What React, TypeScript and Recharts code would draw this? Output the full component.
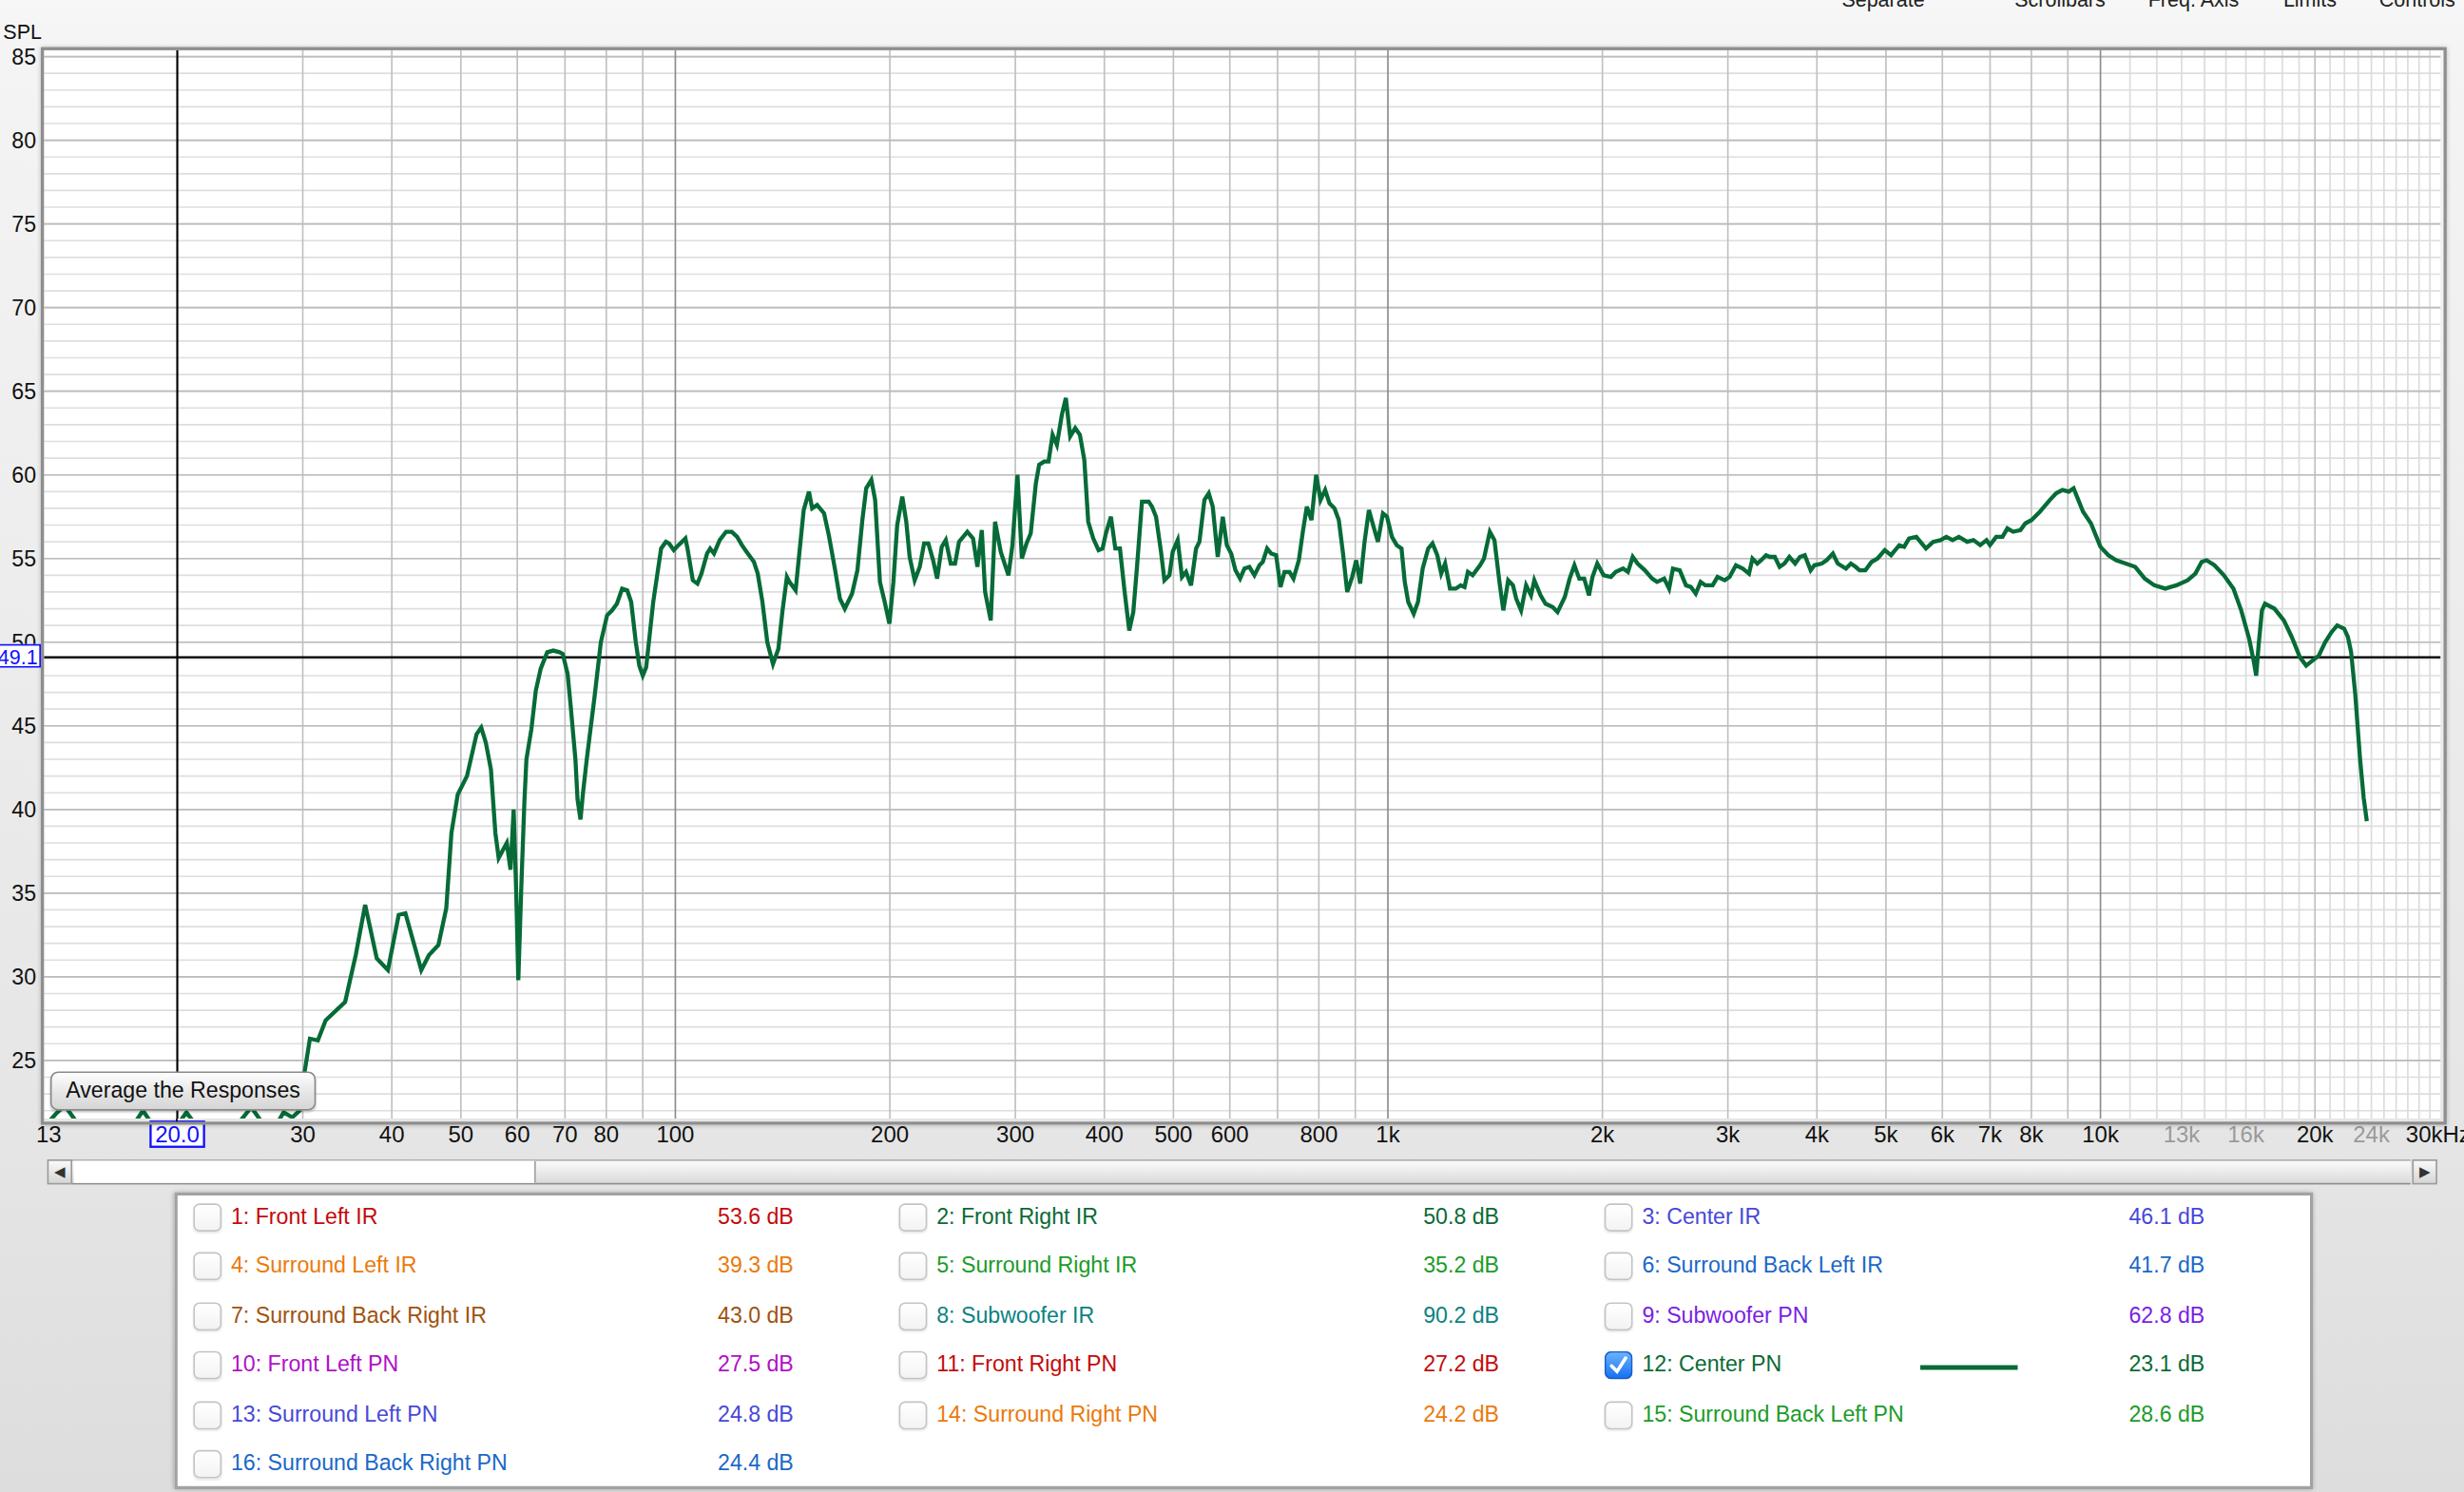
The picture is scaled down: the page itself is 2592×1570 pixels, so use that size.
import React from 'react';
import { LineChart, Line, XAxis, YAxis, CartesianGrid, ReferenceLine } from 'recharts';

const freqHz = [
  13.0, 13.5, 13.9, 14.4, 15.2, 16.3, 17.2, 17.9, 18.7, 19.6, 20.6, 21.6, 22.8, 24.0, 25.4, 26.4,
  27.4, 28.2, 29.0, 29.7, 30.2, 30.7, 31.5, 32.3, 34.4, 35.6, 36.7, 38.1, 39.5, 40.9, 41.8, 44.0,
  45.1, 46.5, 47.7, 48.5, 49.5, 51.0, 52.6, 53.4, 54.2, 55.1, 55.9, 56.5, 58.0, 58.7, 59.3, 59.8,
  60.2, 60.8, 61.4, 61.8, 62.8, 63.7, 64.7, 66.1, 67.4, 68.8, 69.5, 70.6, 71.3, 72.4, 72.9, 73.6,
  74.2, 75.1, 77.0, 78.6, 80.2, 81.5, 82.8, 84.2, 85.6, 86.7, 88.0, 89.0, 90.0, 91.0, 93.1, 95.5,
  97.0, 98.0, 99.5, 101, 103.3, 104, 105.8, 107.4, 108.8, 110.8, 111.9, 113.3, 115.4, 117.8, 120, 122.1,
  124, 125.9, 128.9, 130.5, 132.5, 134.6, 137.1, 139.5, 141.4, 143.4, 144.6, 147.5, 149.1, 151.4, 154, 155.6,
  158.1, 161.7, 164.2, 167.6, 170.2, 172.9, 177, 180.1, 183, 185.3, 188.4, 190.7, 193.7, 196.7, 199.7, 202.3,
  204.8, 208.2, 210.9, 213.2, 216.7, 220.3, 223.4, 226.5, 230, 233, 236.5, 239.6, 243.5, 246.9, 250.1, 256.9,
  261.7, 265.4, 269.2, 272.1, 277.1, 281, 286.2, 293.4, 297.2, 302.1, 306.4, 311, 315.3, 320.6, 324, 329.3,
  334, 338.4, 343.1, 348.7, 353.2, 358.2, 364.1, 369.6, 374.9, 379.7, 385.9, 392.6, 397.7, 402, 408.6, 414.4,
  420.7, 426.6, 433.5, 439.2, 444.5, 451.7, 461.6, 466.6, 472.7, 480.4, 485.7, 493.6, 498.9, 507, 514, 520.8,
  529.3, 538, 543.8, 552.7, 560.5, 567.8, 577, 586.5, 594.2, 602.6, 611, 620.2, 629, 639.2, 649.6, 660.3,
  667.4, 676.8, 685.6, 696.8, 706.7, 715.9, 727.6, 737, 749.9, 759.7, 769.5, 781.2, 793.1, 804.3, 816.5, 827.9,
  841.5, 853.3, 864.5, 876.8, 891, 902.7, 914.4, 927.3, 940.4, 954.7, 968.2, 984.1, 997, 1013, 1029, 1045,
  1056, 1068, 1087, 1102, 1119, 1139, 1155, 1173, 1188, 1203, 1222, 1245, 1265, 1281, 1295, 1315,
  1347, 1364, 1390, 1411, 1434, 1452, 1475, 1498, 1514, 1538, 1563, 1588, 1605, 1638, 1664, 1703,
  1730, 1771, 1799, 1827, 1856, 1886, 1915, 1937, 1967, 2008, 2056, 2088, 2138, 2172, 2206, 2241,
  2294, 2349, 2386, 2442, 2481, 2512, 2568, 2620, 2662, 2704, 2747, 2790, 2856, 2901, 2970, 3017,
  3079, 3148, 3212, 3248, 3299, 3341, 3394, 3436, 3491, 3546, 3602, 3659, 3728, 3787, 3846, 3920,
  3969, 4063, 4127, 4212, 4279, 4394, 4464, 4534, 4591, 4678, 4774, 4865, 4981, 5083, 5220, 5303,
  5387, 5515, 5689, 5824, 5963, 6077, 6201, 6329, 6500, 6634, 6781, 6920, 6997, 7140, 7287, 7402,
  7542, 7722, 7844, 8005, 8222, 8492, 8667, 8845, 9028, 9169, 9310, 9454, 9698, 9848, 10000, 10260,
  10520, 10850, 11190, 11540, 11900, 12330, 12780, 13250, 13590, 13870, 14090, 14450, 14900, 15370, 15760, 16170,
  16420, 16540, 16670, 16850, 17020, 17550, 18090, 18560, 19050, 19440, 19840, 20250, 20670, 21100, 21490, 21980,
  22250, 22480, 22780, 23130, 23410, 23650,
];

const splDb = [
  21.0, 21.8, 22.3, 21.4, 20.3, 19.8, 20.9, 22.0, 20.8, 20.6, 21.9, 20.7, 20.1, 20.9, 22.2, 21.2,
  21.0, 21.9, 21.6, 22.0, 24.4, 26.3, 26.2, 27.4, 28.5, 31.3, 34.3, 31.1, 30.4, 33.7, 33.8, 30.4,
  31.3, 31.9, 34.1, 38.6, 40.9, 42.0, 44.5, 44.9, 44.0, 42.4, 38.6, 37.1, 38.0, 36.4, 40.0, 35.0,
  29.8, 35.5, 40.5, 43.0, 44.8, 47.1, 48.4, 49.4, 49.5, 49.4, 49.3, 48.1, 46.2, 43.0, 40.6, 39.4,
  41.0, 43.0, 46.7, 50.0, 51.6, 51.9, 52.3, 53.2, 53.1, 52.4, 50.0, 48.6, 48.0, 48.5, 52.4, 55.6,
  56.0, 55.9, 55.5, 55.8, 56.2, 55.6, 53.7, 53.5, 54.1, 55.3, 55.6, 55.3, 56.1, 56.6, 56.6, 56.3,
  55.8, 55.4, 54.8, 54.1, 52.4, 50.0, 48.7, 49.6, 51.9, 53.9, 53.6, 53.1, 55.1, 57.9, 59.0, 58.0,
  58.2, 57.7, 56.4, 54.3, 52.6, 52.0, 52.9, 54.3, 57.3, 59.2, 59.7, 58.5, 53.6, 52.4, 51.1, 53.6,
  57.0, 58.7, 57.2, 55.1, 53.7, 54.5, 55.9, 55.9, 54.9, 53.8, 55.7, 56.1, 54.7, 54.7, 56.0, 56.6,
  56.2, 54.5, 56.7, 53.0, 51.3, 57.2, 55.4, 54.0, 55.8, 60.0, 55.0, 55.9, 56.5, 59.5, 60.6, 60.8,
  60.8, 62.4, 61.8, 63.6, 64.6, 62.3, 62.8, 62.4, 60.9, 57.2, 56.2, 55.5, 55.6, 56.5, 57.5, 55.6,
  55.6, 53.2, 50.7, 51.8, 54.5, 58.4, 58.4, 58.1, 57.5, 55.4, 53.7, 54.0, 55.4, 56.1, 53.9, 54.2,
  53.4, 55.6, 56.0, 58.5, 58.9, 58.1, 55.1, 57.5, 55.8, 55.3, 54.3, 53.8, 54.4, 54.5, 54.0, 54.6,
  54.8, 55.6, 55.3, 55.2, 53.3, 54.2, 54.2, 53.8, 54.9, 56.6, 58.1, 57.3, 60.0, 58.5, 59.1, 58.3,
  58.0, 57.3, 55.4, 53.0, 53.9, 54.9, 53.5, 56.0, 57.9, 56.9, 56.0, 57.7, 57.5, 56.3, 55.8, 55.6,
  53.6, 52.4, 51.7, 52.4, 54.4, 55.6, 55.9, 55.2, 54.1, 54.7, 53.2, 53.2, 53.4, 53.3, 54.2, 54.0,
  54.6, 55.0, 56.6, 56.1, 53.6, 51.9, 53.7, 53.4, 52.6, 51.9, 53.4, 52.8, 53.7, 52.8, 52.3, 52.1,
  51.8, 52.7, 53.8, 54.6, 53.8, 53.8, 52.8, 53.9, 54.7, 54.0, 53.9, 54.2, 54.4, 54.2, 55.1, 54.7,
  54.3, 53.8, 53.6, 53.8, 53.2, 54.4, 54.3, 53.4, 53.3, 52.9, 53.6, 53.4, 53.4, 53.9, 53.7, 53.9,
  54.6, 54.4, 54.1, 55.0, 54.7, 54.9, 55.2, 55.1, 55.1, 54.5, 54.7, 55.1, 54.7, 55.1, 55.2, 54.3,
  54.6, 54.7, 54.9, 55.3, 54.7, 54.4, 54.7, 54.5, 54.3, 54.3, 54.8, 55.0, 55.5, 55.2, 55.8, 55.7,
  56.2, 56.3, 55.6, 56.0, 56.1, 56.3, 56.1, 56.3, 56.0, 56.1, 55.8, 56.1, 55.8, 56.3, 56.3, 56.8,
  56.6, 56.7, 57.1, 57.3, 57.8, 58.5, 58.9, 59.1, 59.0, 59.2, 58.5, 57.8, 57.1, 56.4, 55.7, 55.2,
  54.9, 54.7, 54.5, 53.8, 53.4, 53.2, 53.4, 53.7, 54.1, 54.8, 54.9, 54.6, 54.0, 53.2, 51.9, 50.2,
  48.8, 48.0, 49.8, 51.9, 52.3, 52.0, 51.3, 50.3, 49.1, 48.6, 48.9, 49.2, 50.0, 50.6, 51.0, 50.8,
  50.3, 49.4, 46.9, 43.1, 40.7, 39.3,
];

const yTicks = [25, 30, 35, 40, 45, 50, 55, 60, 65, 70, 75, 80, 85];
const xTicks = [
  13, 20, 30, 40, 50, 60, 70, 80, 100, 200, 300, 400, 500, 600, 800, 1000, 2000, 3000, 4000, 5000,
  6000, 7000, 8000, 10000, 13000, 16000, 20000, 24000, 30000,
];
const xTickLabels = [
  '13', '20.0', '30', '40', '50', '60', '70', '80', '100', '200', '300', '400', '500', '600', '800', '1k', '2k',
  '3k', '4k', '5k', '6k', '7k', '8k', '10k', '13k', '16k', '20k', '24k', '30kHz',
];
const mutedTicks = [13000, 16000, 24000];

const decadeLines = [100, 1000, 10000];
const freqLines = [
  30, 40, 50, 60, 70, 80, 90, 200, 300, 400, 500, 600, 700, 800, 900, 2000, 3000, 4000, 5000, 6000,
  7000, 8000, 9000, 20000,
];
const fineFreqLines = [
  11000, 12000, 13000, 14000, 15000, 16000, 17000, 18000, 19000, 21000, 22000, 23000, 24000, 25000,
  26000, 27000, 28000, 29000,
];
const dbLines = Array.from({ length: 64 }, (_, i) => 22 + i);

const cursorFreq = 20;
const cursorSpl = 49.1;

const channelNames = [
  '1: Front Left IR', '2: Front Right IR', '3: Center IR', '4: Surround Left IR', '5: Surround Right IR',
  '6: Surround Back Left IR', '7: Surround Back Right IR', '8: Subwoofer IR', '9: Subwoofer PN',
  '10: Front Left PN', '11: Front Right PN', '12: Center PN', '13: Surround Left PN', '14: Surround Right PN',
  '15: Surround Back Left PN', '16: Surround Back Right PN',
];
const channelLevels = [
  '53.6 dB', '50.8 dB', '46.1 dB', '39.3 dB', '35.2 dB', '41.7 dB', '43.0 dB', '90.2 dB', '62.8 dB',
  '27.5 dB', '27.2 dB', '23.1 dB', '24.8 dB', '24.2 dB', '28.6 dB', '24.4 dB',
];
const channelColors = [
  '#c40a0a', '#0b6a35', '#4848d8', '#ea7a0c', '#1d9b2a', '#1a68c8', '#a0520e', '#0c8282', '#7a1ee6',
  '#b010c8', '#c40a0a', '#0b6a35', '#4848d8', '#ea7a0c', '#1d9b2a', '#1a68c8',
];
const activeChannel = 12;
const toolbarItems = ['Separate', 'Scrollbars', 'Freq. Axis', 'Limits', 'Controls'];
const toolbarX = [1172, 1282, 1367, 1453, 1514];

const CURVE = '#066b37';
const FONT = '"Liberation Sans", Arial, sans-serif';
const SCALE = 2592 / 1568;

const data = freqHz.map((f, i) => ({ f, spl: splDb[i] }));

function XTick(props: any) {
  const { x, payload } = props;
  const idx = xTicks.indexOf(payload.value);
  const label = xTickLabels[idx] ?? '';
  if (payload.value === cursorFreq) {
    return (
      <g>
        <rect x={x - 17} y={714} width={34} height={16} fill="#fff" stroke="#1010ff" strokeWidth={1.4} />
        <text x={x} y={727} textAnchor="middle" fontSize={14.5} fill="#1010ff" fontFamily={FONT}>
          {label}
        </text>
      </g>
    );
  }
  const last = payload.value === 30000;
  return (
    <text
      x={last ? x - 22 : payload.value === 13 ? x + 3 : x}
      y={727}
      textAnchor={last ? 'start' : 'middle'}
      fontSize={14.5}
      fill={mutedTicks.includes(payload.value) ? '#9a9a9a' : '#111'}
      fontFamily={FONT}
    >
      {label}
    </text>
  );
}

function YTick(props: any) {
  const { y, payload } = props;
  return (
    <text x={23} y={y + 5} textAnchor="end" fontSize={14} fill="#111" fontFamily={FONT}>
      {payload.value}
    </text>
  );
}

function Checkbox({ checked }: { checked: boolean }) {
  if (checked) {
    return (
      <svg width={18} height={18} style={{ display: 'block' }}>
        <defs>
          <linearGradient id="cb" x1="0" y1="0" x2="0" y2="1">
            <stop offset="0" stopColor="#6cb4ff" />
            <stop offset="1" stopColor="#1570f0" />
          </linearGradient>
        </defs>
        <rect x={0.5} y={0.5} width={17} height={17} rx={4} fill="url(#cb)" stroke="#1a5fc8" />
        <path d="M4.5 9.5 L8 13 L13.5 4.5" stroke="#fff" strokeWidth={2.2} fill="none" strokeLinecap="round" />
      </svg>
    );
  }
  return (
    <div
      style={{
        width: 16,
        height: 16,
        border: '1px solid #c4c4c4',
        borderRadius: 4,
        background: 'linear-gradient(#ffffff, #f3f3f3)',
        boxShadow: '0 1px 1px rgba(0,0,0,0.08)',
      }}
    />
  );
}

function ChannelLegend() {
  const colX = [0, 449, 898];
  return (
    <div
      style={{
        position: 'absolute',
        left: 111,
        top: 759,
        width: 1357,
        height: 185,
        background: '#fff',
        border: '2px solid #a2a2a2',
        boxShadow: '0 0 3px rgba(0,0,0,0.35)',
      }}
    >
      {channelNames.map((name, i) => {
        const row = Math.floor(i / 3);
        const col = i % 3;
        const cy = 13 + row * 31.4;
        const ox = colX[col];
        const checked = i + 1 === activeChannel;
        return (
          <React.Fragment key={name}>
            <div style={{ position: 'absolute', left: 10 + ox, top: cy - 8 }}>
              <Checkbox checked={checked} />
            </div>
            <div
              style={{
                position: 'absolute',
                left: 34 + ox,
                top: cy - 9,
                fontSize: 14,
                lineHeight: '18px',
                color: channelColors[i],
                fontFamily: FONT,
                whiteSpace: 'nowrap',
              }}
            >
              {name}
            </div>
            {checked && (
              <div
                style={{
                  position: 'absolute',
                  left: 1109,
                  top: cy + 1,
                  width: 62,
                  height: 3,
                  background: CURVE,
                }}
              />
            )}
            <div
              style={{
                position: 'absolute',
                left: 292 + ox,
                width: 100,
                top: cy - 9,
                textAlign: 'right',
                fontSize: 14,
                lineHeight: '18px',
                color: channelColors[i],
                fontFamily: FONT,
                whiteSpace: 'nowrap',
              }}
            >
              {channelLevels[i]}
            </div>
          </React.Fragment>
        );
      })}
    </div>
  );
}

function Scrollbar() {
  const btn: React.CSSProperties = {
    position: 'absolute',
    top: 738,
    width: 16,
    height: 16,
    background: 'linear-gradient(#fafafa, #d6d6d6)',
    border: '1px solid #9c9c9c',
    boxSizing: 'border-box',
    fontSize: 9,
    lineHeight: '15px',
    textAlign: 'center',
    color: '#333',
  };
  return (
    <>
      <div
        style={{
          position: 'absolute',
          left: 46,
          top: 738,
          width: 1488,
          height: 16,
          background: 'linear-gradient(#fbfbfb, #dadada)',
          borderTop: '1px solid #b0b0b0',
          borderBottom: '1px solid #8e8e8e',
          boxSizing: 'border-box',
        }}
      />
      <div
        style={{
          position: 'absolute',
          left: 47,
          top: 739,
          width: 293,
          height: 14,
          background: '#fff',
          borderRight: '1px solid #a0a0a0',
        }}
      />
      <div style={{ ...btn, left: 30 }}>◀</div>
      <div style={{ ...btn, left: 1535 }}>▶</div>
    </>
  );
}

export default function App() {
  return (
    <div
      style={{
        position: 'absolute',
        left: 0,
        top: 0,
        width: 1568,
        height: 950,
        overflow: 'hidden',
        transform: `scale(${SCALE})`,
        transformOrigin: '0 0',
        fontFamily: FONT,
        background: 'linear-gradient(#f7f7f7 0px, #f4f4f4 30px, #e6e6e6 700px, #dddddd 950px)',
      }}
    >
      {toolbarItems.map((t, i) => (
        <div
          key={t}
          style={{ position: 'absolute', left: toolbarX[i], top: -8, fontSize: 13, color: '#222', whiteSpace: 'nowrap' }}
        >
          {t}
        </div>
      ))}
      <div style={{ position: 'absolute', left: 2, top: 13, fontSize: 13, color: '#111' }}>SPL</div>

      <div style={{ position: 'absolute', left: 0, top: 0 }}>
        <LineChart width={1568} height={740} data={data} margin={{ top: 32, right: 15, bottom: 0, left: 0 }}>
          <CartesianGrid fill="#ffffff" vertical={false} horizontalValues={dbLines} stroke="#dedede" strokeWidth={1} />
          <CartesianGrid horizontal={false} verticalValues={fineFreqLines} stroke="#dcdcdc" strokeWidth={1} />
          <CartesianGrid horizontal={false} verticalValues={freqLines} stroke="#c0c0c0" strokeWidth={1} />
          <CartesianGrid vertical={false} horizontalValues={yTicks} stroke="#bcbcbc" strokeWidth={1} />
          <CartesianGrid horizontal={false} verticalValues={decadeLines} stroke="#8c8c8c" strokeWidth={1} />
          <XAxis
            dataKey="f"
            type="number"
            scale="log"
            domain={[13, 30000]}
            ticks={xTicks}
            tick={<XTick />}
            tickLine={false}
            axisLine={false}
            interval={0}
            height={28}
            allowDataOverflow
          />
          <YAxis
            type="number"
            domain={[21.53, 85.38]}
            ticks={yTicks}
            tick={<YTick />}
            tickLine={false}
            axisLine={false}
            interval={0}
            width={28}
            allowDataOverflow
          />
          <ReferenceLine y={cursorSpl} stroke="#000" strokeWidth={1.3} />
          <ReferenceLine x={cursorFreq} stroke="#000" strokeWidth={1.3} />
          <Line
            dataKey="spl"
            type="linear"
            stroke={CURVE}
            strokeWidth={2.6}
            dot={false}
            isAnimationActive={false}
          />
        </LineChart>
      </div>

      {/* plot frame */}
      <div
        style={{
          position: 'absolute',
          left: 26,
          top: 30,
          width: 1527,
          height: 682,
          border: '2px solid #8e8e8e',
          boxShadow: '0 0 3px rgba(0,0,0,0.3)',
          pointerEvents: 'none',
        }}
      />
      {/* cursor level box */}
      <div
        style={{
          position: 'absolute',
          left: -6,
          top: 410,
          width: 32,
          height: 15,
          background: '#fff',
          border: '1px solid #1010ff',
          color: '#1010ff',
          fontSize: 13,
          lineHeight: '15px',
          textAlign: 'right',
          paddingRight: 1,
          boxSizing: 'border-box',
        }}
      >
        49.1
      </div>
      <div style={{ position: 'absolute', left: 112, top: 712, width: 1.3, height: 2, background: '#000' }} />

      <div
        style={{
          position: 'absolute',
          left: 32,
          top: 682,
          width: 169,
          height: 25,
          boxSizing: 'border-box',
          border: '1px solid #8a8a8a',
          borderRadius: 5,
          background: 'linear-gradient(#fdfdfd, #e4e4e4 60%, #d6d6d6)',
          fontSize: 14,
          lineHeight: '23px',
          textAlign: 'center',
          color: '#111',
          boxShadow: '0 1px 1px rgba(0,0,0,0.15)',
        }}
      >
        Average the Responses
      </div>

      <Scrollbar />
      <ChannelLegend />
    </div>
  );
}
